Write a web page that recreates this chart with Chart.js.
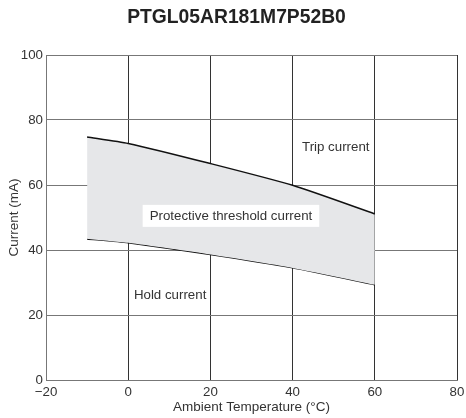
<!DOCTYPE html>
<html><head><meta charset="utf-8">
<script src="https://cdn.jsdelivr.net/npm/chart.js@4/dist/chart.umd.min.js"></script>
<style>html,body{margin:0;padding:0;background:#fff}#wrap{width:466px;height:418px}</style>
</head><body><div id="wrap"><canvas id="c" width="466" height="418"></canvas></div>
<script>
const chartTitle = "PTGL05AR181M7P52B0";
const temps = [-10, 0, 20, 40, 60];
const tripCurrent = [74.8, 72.8, 66.6, 59.9, 51.1];
const holdCurrent = [43.4, 42.2, 38.6, 34.5, 29.3];
const xTicks = [-20, 0, 20, 40, 60, 80];
const yTicks = [0, 20, 40, 60, 80, 100];
const xLabel = "Ambient Temperature (°C)";
const yLabel = "Current (mA)";
const annotations = [
  {text: "Trip current", x: 50.5, y: 71.5, box: false},
  {text: "Protective threshold current", x: 25, y: 50.5, box: true},
  {text: "Hold current", x: 10.2, y: 26, box: false}
];

const FONT = "'Liberation Sans', Arial, sans-serif";
const pts = arr => temps.map((t, i) => ({x: t, y: arr[i]}));

const overlay = {
  id: 'overlay',
  afterDatasetsDraw(chart) {
    const {ctx, scales: {x, y}} = chart;
    ctx.save();
    ctx.font = "13.3px " + FONT;
    ctx.textAlign = 'center';
    ctx.textBaseline = 'middle';
    annotations.forEach(a => {
      const px = x.getPixelForValue(a.x), py = y.getPixelForValue(a.y);
      if (a.box) {
        const w = ctx.measureText(a.text).width;
        ctx.fillStyle = '#fff';
        ctx.fillRect(px - w/2 - 7, py - 11, w + 14, 22);
      }
      ctx.fillStyle = '#333';
      ctx.fillText(a.text, px, py);
    });
    ctx.restore();
  },
  afterDraw(chart) {
    const {ctx} = chart;
    ctx.save();
    ctx.font = "bold 19.3px " + FONT;
    ctx.fillStyle = '#222';
    ctx.textAlign = 'center';
    ctx.textBaseline = 'middle';
    ctx.fillText(chartTitle, 236.5, 17.5);
    ctx.restore();
  }
};

new Chart(document.getElementById('c'), {
  type: 'line',
  data: {
    datasets: [
      {label: 'Trip', data: pts(tripCurrent), borderColor: '#111', borderWidth: 1.5,
       backgroundColor: '#e6e7e9', fill: '+1', pointRadius: 0, tension: 0.2},
      {label: 'Hold', data: pts(holdCurrent), borderColor: '#111', borderWidth: 1.5,
       fill: false, pointRadius: 0, tension: 0.2}
    ]
  },
  options: {
    responsive: false,
    animation: false,
    layout: {padding: {top: 55, right: 0, left: 0, bottom: 0}},
    plugins: {legend: {display: false}, tooltip: {enabled: false}, title: {display: false}},
    scales: {
      x: {
        type: 'linear', min: -20, max: 80,
        afterBuildTicks: s => { s.ticks = xTicks.map(v => ({value: v})); },
        afterFit: s => { s.height = 38; s.paddingRight = 9; s.paddingLeft = 0; },
        grid: {color: '#333', lineWidth: 1, drawTicks: false},
        border: {color: '#777', width: 1},
        ticks: {font: {family: FONT, size: 13.3}, color: '#333', padding: 4, maxRotation: 0,
                callback: v => v < 0 ? '\u2212' + Math.abs(v) : String(v)},
        title: {display: true, text: xLabel, font: {family: FONT, size: 13.5}, color: '#333', padding: {top: 0, bottom: 3}}
      },
      y: {
        type: 'linear', min: 0, max: 100,
        afterBuildTicks: s => { s.ticks = yTicks.map(v => ({value: v})); },
        afterFit: s => { s.width = 46; },
        grid: {color: '#777', lineWidth: 1, drawTicks: false},
        border: {color: '#777', width: 1},
        ticks: {font: {family: FONT, size: 13.3}, color: '#333', padding: 3},
        title: {display: true, text: yLabel, font: {family: FONT, size: 13.5}, color: '#333', padding: {top: 6, bottom: 0}}
      }
    }
  },
  plugins: [overlay]
});
</script>
</body></html>
